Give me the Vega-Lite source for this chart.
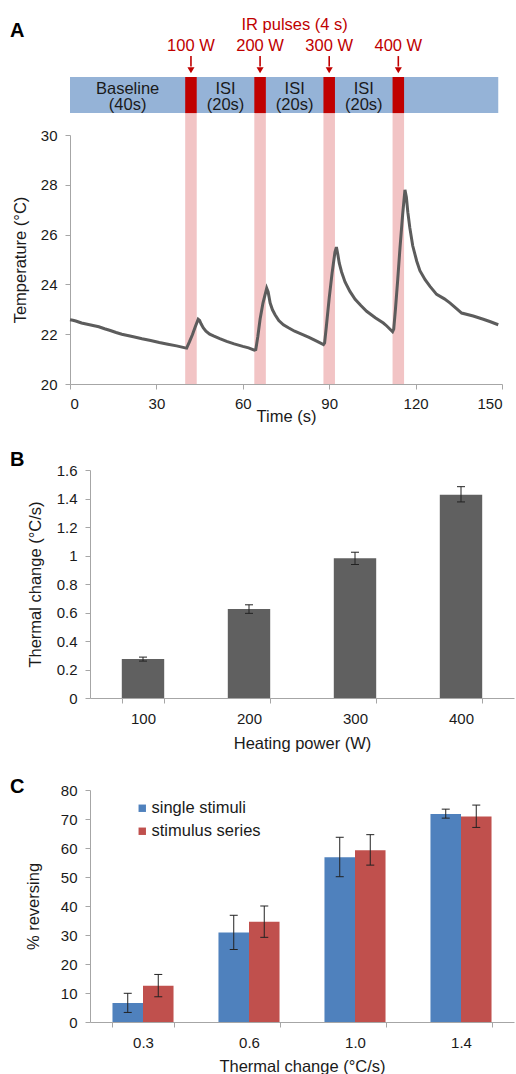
{
  "$schema": "https://vega.github.io/schema/vega-lite/v6.json",
  "padding": {"left": 10, "top": 17, "right": 0, "bottom": 0},
  "spacing": 25,
  "resolve": {"legend": {"color": "independent"}, "scale": {"color": "independent"}},
  "config": {
    "view": {"stroke": null},
    "font": "Liberation Sans",
    "axis": {
      "domainColor": "#a6a6a6", "tickColor": "#a6a6a6", "tickSize": 5,
      "labelColor": "#1a1a1a", "titleColor": "#1a1a1a",
      "labelFont": "Liberation Sans", "titleFont": "Liberation Sans",
      "labelFontSize": 15, "titleFontSize": 16.5, "titleFontWeight": "normal", "grid": false,
      "labelOverlap": false
    },
    "title": {"font": "Liberation Sans", "fontSize": 20, "fontWeight": "bold", "color": "#000000", "anchor": "start", "frame": "group", "offset": 0, "baseline": "alphabetic"},
    "legend": {"labelFont": "Liberation Sans", "labelFontSize": 16.5, "labelColor": "#1a1a1a"}
  },
  "vconcat": [
    {
      "width": 412, "height": 249,
      "title": {"text": "A", "dx": -80, "dy": 28},
      "layer": [
        {
          "data": {"values": [
            {"start": 40, "end": 44, "mid": 42, "label": "100 W"},
            {"start": 64, "end": 68, "mid": 66, "label": "200 W"},
            {"start": 88, "end": 92, "mid": 90, "label": "300 W"},
            {"start": 112, "end": 116, "mid": 114, "label": "400 W"}
          ]},
          "mark": {"type": "rect", "color": "#f2c4c5"},
          "encoding": {
            "x": {"field": "start", "type": "quantitative", "title": "Time (s)",
                  "scale": {"domain": [0, 150], "nice": false, "range": [-20, 412]},
                  "axis": {"values": [0, 30, 60, 90, 120, 150], "labelPadding": 7, "titlePadding": -3, "labelOverlap": false}},
            "x2": {"field": "end"},
            "y": {"datum": 20, "type": "quantitative", "title": "Temperature (°C)",
                  "scale": {"domain": [20, 30], "nice": false},
                  "axis": {"values": [20, 22, 24, 26, 28, 30], "labelPadding": 8, "titlePadding": 12, "offset": 20, "labelOverlap": false}},
            "y2": {"datum": 30.88}
          }
        },
        {
          "data": {"values": [{"segment": "timeline"}]},
          "mark": {"type": "rect", "color": "#95b3d7"},
          "encoding": {
            "x": {"datum": 0, "type": "quantitative"},
            "x2": {"datum": 148.7},
            "y": {"datum": 30.88, "type": "quantitative"},
            "y2": {"datum": 32.33}
          }
        },
        {
          "data": {"values": [
            {"start": 40, "end": 44, "mid": 42, "label": "100 W"},
            {"start": 64, "end": 68, "mid": 66, "label": "200 W"},
            {"start": 88, "end": 92, "mid": 90, "label": "300 W"},
            {"start": 112, "end": 116, "mid": 114, "label": "400 W"}
          ]},
          "layer": [
            {
              "mark": {"type": "rect", "color": "#c00000"},
              "encoding": {
                "x": {"field": "start", "type": "quantitative", "title": "Time (s)"},
                "x2": {"field": "end"},
                "y": {"datum": 30.88, "type": "quantitative"},
                "y2": {"datum": 32.33}
              }
            },
            {
              "mark": {"type": "rule", "color": "#c00000", "strokeWidth": 1.6},
              "encoding": {
                "x": {"field": "mid", "type": "quantitative", "title": "Time (s)"},
                "y": {"datum": 33.17, "type": "quantitative"},
                "y2": {"datum": 32.75}
              }
            },
            {
              "mark": {"type": "point", "shape": "triangle-down", "filled": true, "color": "#c00000", "opacity": 1, "size": 50},
              "encoding": {
                "x": {"field": "mid", "type": "quantitative", "title": "Time (s)"},
                "y": {"datum": 32.6, "type": "quantitative"}
              }
            },
            {
              "mark": {"type": "text", "color": "#c00000", "fontSize": 16.5, "baseline": "middle", "align": "center"},
              "encoding": {
                "x": {"field": "mid", "type": "quantitative", "title": "Time (s)"},
                "y": {"datum": 33.56, "type": "quantitative"},
                "text": {"field": "label"}
              }
            }
          ]
        },
        {
          "data": {"values": [
            {"t": 20, "label": "Baseline\n(40s)"},
            {"t": 54, "label": "ISI\n(20s)"},
            {"t": 78, "label": "ISI\n(20s)"},
            {"t": 102, "label": "ISI\n(20s)"}
          ]},
          "mark": {"type": "text", "color": "#1a1a1a", "fontSize": 16.5, "baseline": "middle", "align": "center", "lineBreak": "\n", "lineHeight": 16.7},
          "encoding": {
            "x": {"field": "t", "type": "quantitative", "title": "Time (s)"},
            "y": {"datum": 31.86, "type": "quantitative"},
            "text": {"field": "label"}
          }
        },
        {
          "data": {"values": [{"t": 78, "label": "IR pulses (4 s)"}]},
          "mark": {"type": "text", "color": "#c00000", "fontSize": 16.5, "baseline": "middle", "align": "center"},
          "encoding": {
            "x": {"field": "t", "type": "quantitative", "title": "Time (s)"},
            "y": {"datum": 34.41, "type": "quantitative"},
            "text": {"field": "label"}
          }
        },
        {
          "data": {"values": [
            {"t": 0, "T": 22.58}, {"t": 1, "T": 22.56}, {"t": 2, "T": 22.53}, {"t": 3, "T": 22.49},
            {"t": 4, "T": 22.45}, {"t": 6, "T": 22.4}, {"t": 8, "T": 22.35}, {"t": 10, "T": 22.3},
            {"t": 12, "T": 22.22}, {"t": 14, "T": 22.15}, {"t": 16, "T": 22.07}, {"t": 18, "T": 22.0},
            {"t": 20, "T": 21.95}, {"t": 22, "T": 21.9}, {"t": 25, "T": 21.82}, {"t": 28, "T": 21.75},
            {"t": 31, "T": 21.67}, {"t": 34, "T": 21.6}, {"t": 37, "T": 21.53}, {"t": 40, "T": 21.45},
            {"t": 40.5, "T": 21.44}, {"t": 41.5, "T": 21.7}, {"t": 42.5, "T": 21.98}, {"t": 43.5, "T": 22.3},
            {"t": 44.5, "T": 22.6}, {"t": 45, "T": 22.55}, {"t": 45.5, "T": 22.42}, {"t": 46.3, "T": 22.25},
            {"t": 47.2, "T": 22.12}, {"t": 48.5, "T": 22.0}, {"t": 50, "T": 21.92}, {"t": 52, "T": 21.82},
            {"t": 54.4, "T": 21.71}, {"t": 57, "T": 21.61}, {"t": 60, "T": 21.51}, {"t": 62, "T": 21.45},
            {"t": 64, "T": 21.36}, {"t": 64.5, "T": 21.38}, {"t": 65.2, "T": 21.9}, {"t": 66, "T": 22.6},
            {"t": 67, "T": 23.25}, {"t": 68.3, "T": 23.85}, {"t": 68.8, "T": 23.7}, {"t": 69.5, "T": 23.25},
            {"t": 70.3, "T": 22.98}, {"t": 71.2, "T": 22.78}, {"t": 72.5, "T": 22.55}, {"t": 74.1, "T": 22.38},
            {"t": 76, "T": 22.25}, {"t": 78, "T": 22.12}, {"t": 80, "T": 22.02}, {"t": 83, "T": 21.87},
            {"t": 86, "T": 21.7}, {"t": 88, "T": 21.58}, {"t": 88.4, "T": 21.65}, {"t": 89, "T": 22.3},
            {"t": 90, "T": 23.45}, {"t": 91, "T": 24.45}, {"t": 92, "T": 25.3}, {"t": 92.5, "T": 25.5},
            {"t": 93, "T": 25.2}, {"t": 93.5, "T": 24.85}, {"t": 94.3, "T": 24.5}, {"t": 95.5, "T": 24.1},
            {"t": 97.2, "T": 23.72}, {"t": 99, "T": 23.4}, {"t": 101, "T": 23.15}, {"t": 103, "T": 22.92},
            {"t": 106, "T": 22.66}, {"t": 108.8, "T": 22.45}, {"t": 110, "T": 22.33}, {"t": 112, "T": 22.1},
            {"t": 112.4, "T": 22.2}, {"t": 113, "T": 23.0}, {"t": 113.8, "T": 24.2}, {"t": 114.6, "T": 25.5},
            {"t": 115.5, "T": 26.8}, {"t": 116.3, "T": 27.8}, {"t": 116.8, "T": 27.5}, {"t": 117.3, "T": 26.9},
            {"t": 118, "T": 26.27}, {"t": 119, "T": 25.55}, {"t": 120.4, "T": 24.93}, {"t": 121.5, "T": 24.55},
            {"t": 123.3, "T": 24.19}, {"t": 125, "T": 23.92}, {"t": 127.3, "T": 23.6}, {"t": 130, "T": 23.42},
            {"t": 132, "T": 23.25}, {"t": 134, "T": 23.05}, {"t": 136, "T": 22.85}, {"t": 140, "T": 22.73},
            {"t": 143.5, "T": 22.6}, {"t": 146, "T": 22.5}, {"t": 148.7, "T": 22.38}
          ]},
          "mark": {"type": "line", "color": "#5c5c5c", "strokeWidth": 3},
          "encoding": {
            "x": {"field": "t", "type": "quantitative", "title": "Time (s)"},
            "y": {"field": "T", "type": "quantitative", "title": "Temperature (°C)"}
          }
        }
      ]
    },
    {
      "width": 424, "height": 228,
      "title": {"text": "B", "dx": -80, "dy": 11},
      "data": {"values": [
        {"power": "100", "rate": 0.273, "lo": 0.259, "hi": 0.287},
        {"power": "200", "rate": 0.624, "lo": 0.594, "hi": 0.654},
        {"power": "300", "rate": 0.981, "lo": 0.937, "hi": 1.023},
        {"power": "400", "rate": 1.427, "lo": 1.376, "hi": 1.483}
      ]},
      "encoding": {
        "x": {"field": "power", "type": "nominal", "sort": null, "title": "Heating power (W)",
              "scale": {"paddingInner": 0.6, "paddingOuter": 0.3},
              "axis": {"labelAngle": 0, "tickBand": "extent", "labelPadding": 8, "titlePadding": 9}}
      },
      "layer": [
        {
          "mark": {"type": "bar", "color": "#606060"},
          "encoding": {
            "y": {"field": "rate", "type": "quantitative", "title": "Thermal change (°C/s)",
                  "scale": {"domain": [0, 1.6], "nice": false},
                  "axis": {"values": [0, 0.2, 0.4, 0.6, 0.8, 1, 1.2, 1.4, 1.6], "format": "~g", "labelPadding": 8, "titlePadding": 12.5, "labelOverlap": false}}
          }
        },
        {
          "mark": {"type": "rule", "color": "#222222", "strokeWidth": 1},
          "encoding": {
            "y": {"field": "lo", "type": "quantitative", "title": "Thermal change (°C/s)",
                  "axis": {"values": [0, 0.2, 0.4, 0.6, 0.8, 1, 1.2, 1.4, 1.6], "format": "~g", "labelPadding": 8, "titlePadding": 12.5, "labelOverlap": false}},
            "y2": {"field": "hi"}
          }
        },
        {
          "mark": {"type": "tick", "orient": "horizontal", "size": 8, "thickness": 1, "color": "#222222", "opacity": 1},
          "encoding": {"y": {"field": "lo", "type": "quantitative", "title": "Thermal change (°C/s)",
                  "axis": {"values": [0, 0.2, 0.4, 0.6, 0.8, 1, 1.2, 1.4, 1.6], "format": "~g", "labelPadding": 8, "titlePadding": 12.5, "labelOverlap": false}}}
        },
        {
          "mark": {"type": "tick", "orient": "horizontal", "size": 8, "thickness": 1, "color": "#222222", "opacity": 1},
          "encoding": {"y": {"field": "hi", "type": "quantitative", "title": "Thermal change (°C/s)",
                  "axis": {"values": [0, 0.2, 0.4, 0.6, 0.8, 1, 1.2, 1.4, 1.6], "format": "~g", "labelPadding": 8, "titlePadding": 12.5, "labelOverlap": false}}}
        }
      ]
    },
    {
      "width": 424, "height": 232,
      "title": {"text": "C", "dx": -80, "dy": 18},
      "data": {"values": [
        {"rate": "0.3", "series": "single stimuli", "pct": 6.55, "lo": 3.3, "hi": 9.9},
        {"rate": "0.3", "series": "stimulus series", "pct": 12.5, "lo": 8.7, "hi": 16.4},
        {"rate": "0.6", "series": "single stimuli", "pct": 30.9, "lo": 25.0, "hi": 36.8},
        {"rate": "0.6", "series": "stimulus series", "pct": 34.6, "lo": 29.2, "hi": 40.0},
        {"rate": "1.0", "series": "single stimuli", "pct": 56.8, "lo": 50.1, "hi": 63.7},
        {"rate": "1.0", "series": "stimulus series", "pct": 59.2, "lo": 54.1, "hi": 64.6},
        {"rate": "1.4", "series": "single stimuli", "pct": 71.7, "lo": 70.3, "hi": 73.4},
        {"rate": "1.4", "series": "stimulus series", "pct": 70.9, "lo": 67.1, "hi": 74.8}
      ]},
      "encoding": {
        "x": {"field": "rate", "type": "nominal", "sort": null, "title": "Thermal change (°C/s)",
              "scale": {"paddingInner": 0.424, "paddingOuter": 0.212},
              "axis": {"labelAngle": 0, "tickBand": "extent", "labelPadding": 8, "titlePadding": 8}},
        "xOffset": {"field": "series", "type": "nominal", "sort": null,
                    "scale": {"domain": ["single stimuli", "stimulus series"], "paddingInner": 0, "paddingOuter": 0}}
      },
      "layer": [
        {
          "mark": {"type": "bar"},
          "encoding": {
            "y": {"field": "pct", "type": "quantitative", "title": "% reversing",
                  "scale": {"domain": [0, 80], "nice": false},
                  "axis": {"values": [0, 10, 20, 30, 40, 50, 60, 70, 80], "labelPadding": 8, "titlePadding": 18.5, "labelOverlap": false}},
            "color": {"field": "series", "type": "nominal",
                      "scale": {"domain": ["single stimuli", "stimulus series"], "range": ["#4f81bd", "#c0504d"]},
                      "legend": {"title": null, "orient": "none", "legendX": 44, "legendY": 10, "symbolType": "square", "symbolSize": 55, "symbolStrokeWidth": 0, "labelOffset": 1, "rowPadding": 6, "padding": 0}}
          }
        },
        {
          "mark": {"type": "rule", "color": "#222222", "strokeWidth": 1},
          "encoding": {
            "y": {"field": "lo", "type": "quantitative", "title": "% reversing",
                  "axis": {"values": [0, 10, 20, 30, 40, 50, 60, 70, 80], "labelPadding": 8, "titlePadding": 18.5, "labelOverlap": false}},
            "y2": {"field": "hi"}
          }
        },
        {
          "mark": {"type": "tick", "orient": "horizontal", "size": 8, "thickness": 1, "color": "#222222", "opacity": 1},
          "encoding": {"y": {"field": "lo", "type": "quantitative", "title": "% reversing",
                  "axis": {"values": [0, 10, 20, 30, 40, 50, 60, 70, 80], "labelPadding": 8, "titlePadding": 18.5, "labelOverlap": false}}}
        },
        {
          "mark": {"type": "tick", "orient": "horizontal", "size": 8, "thickness": 1, "color": "#222222", "opacity": 1},
          "encoding": {"y": {"field": "hi", "type": "quantitative", "title": "% reversing",
                  "axis": {"values": [0, 10, 20, 30, 40, 50, 60, 70, 80], "labelPadding": 8, "titlePadding": 18.5, "labelOverlap": false}}}
        }
      ]
    }
  ]
}
